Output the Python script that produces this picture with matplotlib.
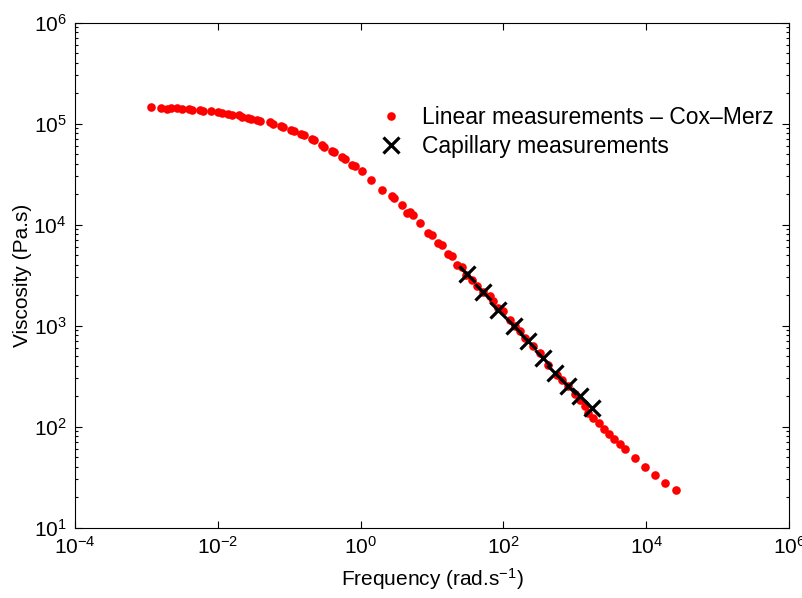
import matplotlib
matplotlib.use('Agg')
import matplotlib.pyplot as plt
from matplotlib.ticker import LogLocator, NullLocator

plt.rcParams['font.family'] = ['Liberation Sans', 'DejaVu Sans']
plt.rcParams['mathtext.fontset'] = 'custom'
plt.rcParams['mathtext.rm'] = 'Liberation Sans'
plt.rcParams['mathtext.it'] = 'Liberation Sans'
plt.rcParams['mathtext.default'] = 'regular'

# Linear (oscillatory) measurements, Cox-Merz: frequency (rad/s) and viscosity (Pa.s)
freq_linear = [
    1.148e-3, 1.585e-3, 1.923e-3, 2.188e-3, 2.710e-3, 3.120e-3, 3.990e-3, 4.395e-3,
    5.633e-3, 6.266e-3, 7.955e-3, 1.017e-2, 1.134e-2, 1.403e-2, 1.566e-2, 2.000e-2,
    2.163e-2, 2.674e-2, 2.890e-2, 3.574e-2, 3.901e-2, 5.383e-2, 5.839e-2, 7.677e-2,
    8.318e-2, 0.1060, 0.1149, 0.1487, 0.1612, 0.2066, 0.2225, 0.2853,
    0.3072, 0.3938, 0.4241, 0.5545, 0.5953, 0.7651, 0.8218, 1.056,
    1.399, 1.976, 2.726, 2.937, 3.837, 4.424, 4.920, 5.470,
    6.792, 8.874, 9.90, 12.25, 13.67, 16.92, 19.24, 22.18,
    26.06, 29.92, 35.97, 42.27, 51.76, 64.9, 72.2, 84.0,
    99.7, 123.7, 145.3, 170.8, 200.6, 262, 325, 425,
    557, 655, 810, 1006, 1183, 1390, 1546, 1816,
    2203, 2564, 3041, 3573, 4296, 5047, 6966, 9614,
    1.327e4, 1.850e4, 2.589e4,
]
visc_linear = [
    1.457e5, 1.433e5, 1.408e5, 1.430e5, 1.430e5, 1.408e5, 1.408e5, 1.376e5,
    1.376e5, 1.345e5, 1.345e5, 1.294e5, 1.276e5, 1.247e5, 1.228e5, 1.208e5,
    1.173e5, 1.139e5, 1.121e5, 1.078e5, 1.071e5, 1.035e5, 1.000e5, 9.55e4,
    9.23e4, 8.72e4, 8.43e4, 7.91e4, 7.69e4, 7.10e4, 6.87e4, 6.13e4,
    5.92e4, 5.40e4, 5.22e4, 4.64e4, 4.50e4, 3.93e4, 3.80e4, 3.37e4,
    2.79e4, 2.22e4, 1.905e4, 1.829e4, 1.578e4, 1.306e4, 1.345e4, 1.256e4,
    1.040e4, 8.27e3, 7.96e3, 6.59e3, 6.34e3, 5.16e3, 4.85e3, 4.02e3,
    3.81e3, 3.20e3, 2.85e3, 2.45e3, 2.17e3, 1.95e3, 1.74e3, 1.51e3,
    1386, 1146, 1000, 878, 755, 624, 537, 411,
    327, 292, 251, 212, 185, 159, 137, 123,
    109, 94.9, 85.3, 75.5, 67.9, 60.1, 48.5, 39.9,
    33.0, 27.7, 23.4,
]

# Capillary rheometer measurements
freq_capillary = [30.6, 51.3, 84.9, 142, 223, 362, 528, 795, 1183, 1725]
visc_capillary = [3270, 2157, 1440, 1000, 700, 479, 340, 251, 200, 153]

fig = plt.figure(figsize=(8.02, 5.98), dpi=100)
ax = fig.add_axes([0.0935, 0.1176, 0.8903, 0.8445])

ax.loglog(freq_linear, visc_linear, 'o', color='red', markersize=6.2,
          markeredgewidth=0, label='Linear measurements \u2013 Cox\u2013Merz')
ax.loglog(freq_capillary, visc_capillary, 'x', color='black', markersize=11,
          markeredgewidth=2.3, label='Capillary measurements')

ax.set_xlim(1e-4, 1e6)
ax.set_ylim(1e1, 1e6)
ax.set_xticks([1e-4, 1e-2, 1e0, 1e2, 1e4, 1e6])
ax.xaxis.set_minor_locator(NullLocator())
ax.yaxis.set_minor_locator(LogLocator(base=10, subs=range(2, 10), numticks=20))

ax.tick_params(which='both', direction='in', top=True, right=True, labelsize=15, pad=6)
ax.tick_params(which='major', length=5, width=0.8)
ax.tick_params(which='minor', length=2.5, width=0.8)
for s in ax.spines.values():
    s.set_linewidth(0.8)

ax.set_xlabel('Frequency (rad.s$^{-1}$)', fontsize=15, labelpad=6)
ax.set_ylabel('Viscosity (Pa.s)', fontsize=15, labelpad=1)

ax.legend(loc='upper left', bbox_to_anchor=(0.427, 0.834), frameon=False, fontsize=16.5,
          borderpad=0, borderaxespad=0, handlelength=1.0, handletextpad=0.85,
          labelspacing=0.22, numpoints=1)

fig.savefig('out.png', dpi=100)
